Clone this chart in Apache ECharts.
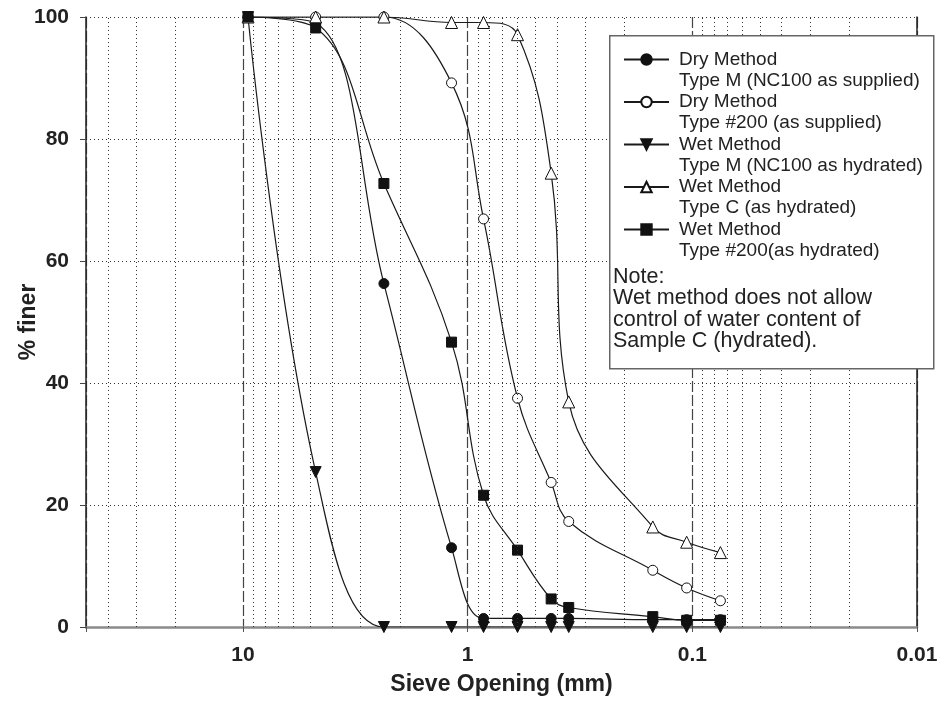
<!DOCTYPE html>
<html>
<head>
<meta charset="utf-8">
<script src="https://cdn.jsdelivr.net/npm/echarts@6/dist/echarts.min.js"></script>
<style>html,body{margin:0;padding:0;background:#fff;}#c{width:939px;height:701px;}</style>
</head>
<body>
<div id="c"></div>
<script>
// Sieve openings (mm)
const sieve = [9.5, 4.75, 2.36, 1.18, 0.85, 0.6, 0.425, 0.355, 0.15, 0.106, 0.075];
// % finer for each series
const dryM   = [100, 99, 56.3, 13.0, 1.4, 1.4, 1.4, 1.4, 1.2, 1.2, 1.2];
const dry200 = [100, 100, 100, 89.2, 66.9, 37.5, 23.7, 17.3, 9.3, 6.4, 4.3];
const wetM   = [100, 25.4, 0, 0, 0, 0, 0, 0, 0, 0, 0];
const wetC   = [100, 100, 100, 99.1, 99.1, 97.1, 74.4, 36.9, 16.4, 13.9, 12.2];
const wet200 = [100, 98.2, 72.7, 46.7, 21.6, 12.6, 4.6, 3.2, 1.7, 1.1, 1.1];
const names = [
  'Dry Method\nType M (NC100 as supplied)',
  'Dry Method\nType #200 (as supplied)',
  'Wet Method\nType M (NC100 as hydrated)',
  'Wet Method\nType C (as hydrated)',
  'Wet Method\nType #200(as hydrated)'
];
const noteLines = ['Note:', 'Wet method does not allow', 'control of water content of', 'Sample C (hydrated).'];
const minorGrid = [40, 30, 20, 9, 8, 7, 6, 5, 4, 3, 2, 0.9, 0.8, 0.7, 0.6, 0.5, 0.4, 0.3, 0.2,
                   0.09, 0.08, 0.07, 0.06, 0.05, 0.04, 0.03, 0.02];
const majorTicks = [10, 1, 0.1, 0.01];

const FONT = '"Liberation Sans", Arial, Helvetica, sans-serif';
const pair = arr => sieve.map((s, i) => [s, arr[i]]);
const lineStyle = {color: '#1a1a1a', width: 1.2};

function mk(name, arr, symbol, fill, size) {
  return {
    name: name, type: 'line', data: pair(arr), smooth: 0.4,
    symbol: symbol, symbolSize: size, showSymbol: true,
    lineStyle: lineStyle,
    itemStyle: {color: fill, borderColor: '#111', borderWidth: 1},
    emphasis: {disabled: true}, z: 3
  };
}

const chart = echarts.init(document.getElementById('c'), null, {renderer: 'canvas'});
chart.setOption({
  animation: false,
  backgroundColor: '#fff',
  textStyle: {fontFamily: FONT},
  grid: {left: 86, right: 22, top: 17, bottom: 74, containLabel: false, outerBoundsMode: 'none'},
  xAxis: {
    type: 'log', logBase: 10, min: 0.01, max: 50, inverse: true,
    name: 'Sieve Opening (mm)', nameLocation: 'middle', nameGap: 46, nameMoveOverlap: false,
    nameTextStyle: {fontSize: 23, fontWeight: 'bold', color: '#222', fontFamily: FONT},
    axisLine: {show: true, onZero: false, lineStyle: {color: '#8a8a8a', width: 2.5}},
    axisTick: {show: true, length: 5, inside: false, lineStyle: {color: '#555', width: 1}},
    axisLabel: {
      margin: 18, fontSize: 21, fontWeight: 'bold', color: '#222', fontFamily: FONT,
      hideOverlap: false,
      formatter: v => (majorTicks.some(t => Math.abs(t - v) / t < 1e-6) ? String(v) : '')
    },
    splitLine: {show: true, lineStyle: {type: [11, 3], color: '#444', width: 1.2}},
    minorTick: {show: false}
  },
  yAxis: [{
    type: 'value', min: 0, max: 100, interval: 20,
    name: '% finer', nameLocation: 'middle', nameGap: 46, nameRotate: 90, nameMoveOverlap: false,
    nameTextStyle: {fontSize: 23, fontWeight: 'bold', color: '#222', fontFamily: FONT},
    axisLine: {show: true, lineStyle: {color: '#222', width: 1.5}},
    axisTick: {show: true, length: 6, lineStyle: {color: '#444'}},
    axisLabel: {margin: 17, fontSize: 21, fontWeight: 'bold', color: '#222', fontFamily: FONT},
    splitLine: {show: true, lineStyle: {type: [1, 3], color: '#333', width: 1}}
  }, {
    type: 'value', min: 0, max: 100, position: 'right',
    axisLine: {show: true, lineStyle: {color: '#222', width: 1.5}},
    axisTick: {show: false}, axisLabel: {show: false}, splitLine: {show: false}
  }],
  legend: {
    orient: 'vertical', left: 623, top: 28, padding: 0,
    itemWidth: 45, itemHeight: 13, itemGap: -20.5,
    data: names, selectedMode: false,
    formatter: name => '\n' + name,
    textStyle: {fontSize: 19, lineHeight: 21, color: '#222', fontFamily: FONT, padding: [0, 0, 0, 5]},
    z: 10
  },
  graphic: [
    {type: 'rect', left: 609, top: 35, z: 8,
     shape: {width: 324, height: 333},
     style: {fill: '#fff', stroke: '#666', lineWidth: 1.5}},
    {type: 'text', left: 613, top: 266, z: 9,
     style: {text: noteLines.join('\n'), font: '21.5px ' + FONT, lineHeight: 21.5, fill: '#222'}}
  ],
  series: [
    {
      name: 'grid', type: 'line', data: [], z: 1, silent: true,
      markLine: {
        silent: true, symbol: ['none', 'none'], animation: false,
        label: {show: false},
        lineStyle: {type: [1, 3], color: '#333', width: 1},
        data: minorGrid.map(v => ({xAxis: v}))
      }
    },
    mk(names[0], dryM, 'circle', '#111', 10),
    mk(names[1], dry200, 'circle', '#fff', 10),
    mk(names[2], wetM, 'path://M0,0L2,0L1,1.732Z', '#111', 11),
    mk(names[3], wetC, 'triangle', '#fff', 12),
    mk(names[4], wet200, 'rect', '#111', 10)
  ]
});
</script>
</body>
</html>
